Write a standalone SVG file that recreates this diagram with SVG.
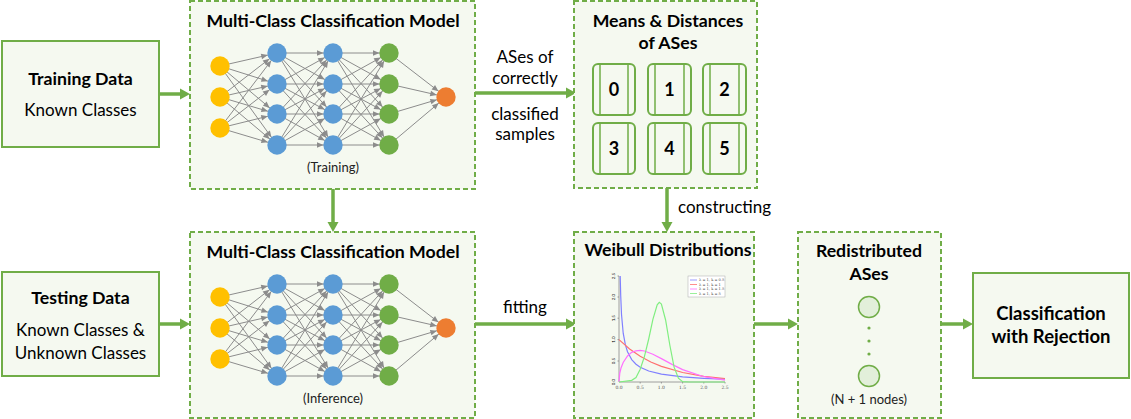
<svg xmlns="http://www.w3.org/2000/svg" xmlns:xlink="http://www.w3.org/1999/xlink" width="1131" height="419" viewBox="0 0 1131 419">
<style>
text{font-family:Lato,"Open Sans","Liberation Sans",sans-serif;fill:#000}
.t{font-weight:bold;font-size:17.7px;text-anchor:middle}
.r{font-size:17px;text-anchor:middle}
.s{font-size:13px;text-anchor:middle;fill:#222}
.d{font-weight:bold;font-size:18px;text-anchor:middle}
.box{fill:#f5f9f0;stroke:#70ad47;stroke-width:2}
.dash{fill:#f5f9f0;stroke:#70ad47;stroke-width:2;stroke-dasharray:5 3}
.arr{stroke:#70ad47;stroke-width:3.5;fill:none;marker-end:url(#ga)}
.e line{stroke:#8c8c8c;stroke-width:1;marker-end:url(#na)}
.ax{stroke:#888;stroke-width:0.8;fill:none}
.tk{font-size:4.5px;fill:#555;text-anchor:middle;font-family:"DejaVu Serif",serif}
.lg{font-size:3.6px;fill:#444;font-family:"DejaVu Serif",serif}
.cv{fill:none;stroke-width:1.2}
</style>
<defs>
<marker id="ga" markerUnits="userSpaceOnUse" markerWidth="20" markerHeight="20" refX="0" refY="0" orient="auto" overflow="visible" viewBox="-10 -10 20 20">
<path d="M-1,-5.5 L9,0 L-1,5.5 z" fill="#70ad47"/>
</marker>
<marker id="na" markerUnits="userSpaceOnUse" markerWidth="20" markerHeight="20" refX="0" refY="0" orient="auto" overflow="visible" viewBox="-20 -10 20 20">
<path d="M-16,-2.8 L-9.5,0 L-16,2.8 z" fill="#8c8c8c"/>
</marker>
<g id="nn">
<g class="e">
<line x1="220" y1="66" x2="277" y2="53"/><line x1="220" y1="66" x2="277" y2="84"/><line x1="220" y1="66" x2="277" y2="114"/><line x1="220" y1="66" x2="277" y2="145"/>
<line x1="220" y1="97" x2="277" y2="53"/><line x1="220" y1="97" x2="277" y2="84"/><line x1="220" y1="97" x2="277" y2="114"/><line x1="220" y1="97" x2="277" y2="145"/>
<line x1="220" y1="128" x2="277" y2="53"/><line x1="220" y1="128" x2="277" y2="84"/><line x1="220" y1="128" x2="277" y2="114"/><line x1="220" y1="128" x2="277" y2="145"/>
<line x1="277" y1="53" x2="333" y2="53"/><line x1="277" y1="53" x2="333" y2="84"/><line x1="277" y1="53" x2="333" y2="114"/><line x1="277" y1="53" x2="333" y2="145"/>
<line x1="277" y1="84" x2="333" y2="53"/><line x1="277" y1="84" x2="333" y2="84"/><line x1="277" y1="84" x2="333" y2="114"/><line x1="277" y1="84" x2="333" y2="145"/>
<line x1="277" y1="114" x2="333" y2="53"/><line x1="277" y1="114" x2="333" y2="84"/><line x1="277" y1="114" x2="333" y2="114"/><line x1="277" y1="114" x2="333" y2="145"/>
<line x1="277" y1="145" x2="333" y2="53"/><line x1="277" y1="145" x2="333" y2="84"/><line x1="277" y1="145" x2="333" y2="114"/><line x1="277" y1="145" x2="333" y2="145"/>
<line x1="333" y1="53" x2="389" y2="53"/><line x1="333" y1="53" x2="389" y2="84"/><line x1="333" y1="53" x2="389" y2="114"/><line x1="333" y1="53" x2="389" y2="145"/>
<line x1="333" y1="84" x2="389" y2="53"/><line x1="333" y1="84" x2="389" y2="84"/><line x1="333" y1="84" x2="389" y2="114"/><line x1="333" y1="84" x2="389" y2="145"/>
<line x1="333" y1="114" x2="389" y2="53"/><line x1="333" y1="114" x2="389" y2="84"/><line x1="333" y1="114" x2="389" y2="114"/><line x1="333" y1="114" x2="389" y2="145"/>
<line x1="333" y1="145" x2="389" y2="53"/><line x1="333" y1="145" x2="389" y2="84"/><line x1="333" y1="145" x2="389" y2="114"/><line x1="333" y1="145" x2="389" y2="145"/>
<line x1="389" y1="53" x2="446" y2="97"/><line x1="389" y1="84" x2="446" y2="97"/><line x1="389" y1="114" x2="446" y2="97"/><line x1="389" y1="145" x2="446" y2="97"/>
</g>
<g fill="#ffc000"><circle cx="220" cy="66" r="9.7"/><circle cx="220" cy="97" r="9.7"/><circle cx="220" cy="128" r="9.7"/></g>
<g fill="#5b9bd5"><circle cx="277" cy="53" r="9.7"/><circle cx="277" cy="84" r="9.7"/><circle cx="277" cy="114" r="9.7"/><circle cx="277" cy="145" r="9.7"/>
<circle cx="333" cy="53" r="9.7"/><circle cx="333" cy="84" r="9.7"/><circle cx="333" cy="114" r="9.7"/><circle cx="333" cy="145" r="9.7"/></g>
<g fill="#70ad47"><circle cx="389" cy="53" r="9.7"/><circle cx="389" cy="84" r="9.7"/><circle cx="389" cy="114" r="9.7"/><circle cx="389" cy="145" r="9.7"/></g>
<circle cx="446" cy="97" r="9.7" fill="#ed7d31"/>
</g>
</defs>
<rect width="1131" height="419" fill="#fff"/>

<g id="connectors">
<line class="arr" x1="159" y1="94" x2="181" y2="94"/>
<line class="arr" x1="159" y1="324" x2="181" y2="324"/>
<line class="arr" x1="475" y1="93" x2="567" y2="93"/>
<line class="arr" x1="475" y1="324" x2="567" y2="324"/>
<line class="arr" x1="333" y1="189" x2="333" y2="223"/>
<line class="arr" x1="667" y1="188" x2="667" y2="223"/>
<line class="arr" x1="754" y1="324" x2="789" y2="324"/>
<line class="arr" x1="941" y1="324" x2="964" y2="324"/>
<text class="r" x="525" y="63">ASes of</text>
<text class="r" x="525" y="84">correctly</text>
<text class="r" x="525" y="120">classified</text>
<text class="r" x="525" y="140">samples</text>
<text class="r" x="525" y="313">fitting</text>
<text class="r" x="678" y="213" style="text-anchor:start">constructing</text>
</g>

<g id="training-data">
<rect class="box" x="2" y="41" width="157" height="106"/>
<text class="t" x="80.5" y="85">Training Data</text>
<text class="r" x="80.5" y="116">Known Classes</text>
</g>

<g id="testing-data">
<rect class="box" x="2" y="272" width="157" height="104"/>
<text class="t" x="80.5" y="304">Testing Data</text>
<text class="r" x="80.5" y="336">Known Classes &amp;</text>
<text class="r" x="80.5" y="359">Unknown Classes</text>
</g>

<g id="model-training">
<rect class="dash" x="190" y="1" width="285" height="188"/>
<text class="t" x="333" y="27">Multi-Class Classification Model</text>
<use xlink:href="#nn"/>
<text class="s" x="333" y="172">(Training)</text>
</g>

<g id="model-inference">
<rect class="dash" x="190" y="232" width="285" height="186"/>
<text class="t" x="333" y="258">Multi-Class Classification Model</text>
<use xlink:href="#nn" transform="translate(0,231)"/>
<text class="s" x="333" y="403">(Inference)</text>
</g>

<g id="means-distances">
<rect class="dash" x="574" y="1" width="183" height="187"/>
<text class="t" x="668" y="27">Means &amp; Distances</text>
<text class="t" x="668" y="49">of ASes</text>
<g fill="#f5f9f0" stroke="#70ad47" stroke-width="2">
<rect x="593" y="64" width="42" height="51" rx="5"/><rect x="648" y="64" width="43" height="51" rx="5"/><rect x="703" y="64" width="43" height="51" rx="5"/>
<rect x="593" y="123" width="42" height="51" rx="5"/><rect x="648" y="123" width="43" height="51" rx="5"/><rect x="703" y="123" width="43" height="51" rx="5"/>
<path d="M600,64V115M628,64V115M655,64V115M684,64V115M710,64V115M739,64V115M600,123V174M628,123V174M655,123V174M684,123V174M710,123V174M739,123V174" fill="none" stroke-width="1.5"/>
</g>
<text class="d" x="614" y="96">0</text><text class="d" x="669.5" y="96">1</text><text class="d" x="724.5" y="96">2</text>
<text class="d" x="614" y="155">3</text><text class="d" x="669.5" y="155">4</text><text class="d" x="724.5" y="155">5</text>
</g>

<g id="weibull">
<rect class="dash" x="574" y="232" width="180" height="186"/>
<text class="t" x="668" y="256">Weibull Distributions</text>
<path class="ax" d="M619,276V382H725"/>
<path class="ax" d="M640.2,382v1.5M661.4,382v1.5M682.6,382v1.5M703.8,382v1.5M725,382v1.5M617.5,361H619M617.5,339.6H619M617.5,318.2H619M617.5,297H619M617.5,276H619"/>
<text class="tk" x="619" y="389">0.0</text><text class="tk" x="640.2" y="389">0.5</text><text class="tk" x="661.4" y="389">1.0</text><text class="tk" x="682.6" y="389">1.5</text><text class="tk" x="703.8" y="389">2.0</text><text class="tk" x="725" y="389">2.5</text>
<g class="tk"><text transform="translate(615,382) rotate(-90)">0.0</text><text transform="translate(615,361) rotate(-90)">0.5</text><text transform="translate(615,339.6) rotate(-90)">1.0</text><text transform="translate(615,318.2) rotate(-90)">1.5</text><text transform="translate(615,297) rotate(-90)">2.0</text><text transform="translate(615,276) rotate(-90)">2.5</text></g>
<polyline class="cv" stroke="#8080ff" points="620.2,276 620.7,295.2 621.5,314.2 623.2,333.2 625.4,344.9 627.5,351.7 631.7,359.6 636,364.2 640.2,367.2 648.7,371 661.4,374.2 682.6,376.9 703.8,378.4 725,379.2"/>
<polyline class="cv" stroke="#ff7070" points="619,339.6 629.6,349 640.2,356.3 650.8,362 661.4,366.4 682.6,372.5 703.8,376.3 725,378.5"/>
<polyline class="cv" stroke="#ff70ff" points="619,382 619.8,373 621,368 623.2,362.5 627.5,356 631.7,352.4 636,350.8 640.2,350.4 644.4,351 652.9,354.2 661.4,358.6 672,364.4 682.6,369.6 703.8,376.7 725,380.1"/>
<polyline class="cv" stroke="#80ee80" points="619,382 631.7,380.3 636,377.5 640.2,369.2 644.4,356.6 648.7,339 652.9,319.4 657.2,304.9 659.3,302.3 661.4,304 665.6,320 669.9,345.5 674.1,367.2 678.4,378.2 682.6,381.6 690,382 725,382"/>
<rect x="688" y="276" width="37" height="21" fill="#fff" stroke="#aaa" stroke-width="0.5"/>
<g stroke-width="0.8"><line x1="690" y1="280" x2="697" y2="280" stroke="#8080ff"/><line x1="690" y1="284.5" x2="697" y2="284.5" stroke="#ff7070"/><line x1="690" y1="289" x2="697" y2="289" stroke="#ff70ff"/><line x1="690" y1="293.5" x2="697" y2="293.5" stroke="#80ee80"/></g>
<text class="lg" x="699" y="281.2">λ = 1, k = 0.5</text><text class="lg" x="699" y="285.7">λ = 1, k = 1</text><text class="lg" x="699" y="290.2">λ = 1, k = 1.5</text><text class="lg" x="699" y="294.7">λ = 1, k = 5</text>
</g>

<g id="redistributed">
<rect class="dash" x="798" y="232" width="143" height="186"/>
<text class="t" x="869" y="257">Redistributed</text>
<text class="t" x="869" y="280">ASes</text>
<circle cx="869" cy="307" r="10.5" fill="#e2efda" stroke="#70ad47" stroke-width="1.5"/>
<circle cx="869" cy="376" r="10.5" fill="#e2efda" stroke="#70ad47" stroke-width="1.5"/>
<g fill="#70ad47"><circle cx="869" cy="328" r="1.6"/><circle cx="869" cy="341" r="1.6"/><circle cx="869" cy="354" r="1.6"/></g>
<text class="s" x="869" y="404">(N + 1 nodes)</text>
</g>

<g id="classification">
<rect class="box" x="973" y="273" width="156" height="105"/>
<text class="t" x="1051" y="320" style="font-size:18.5px">Classification</text>
<text class="t" x="1051" y="343" style="font-size:18.5px">with Rejection</text>
</g>
</svg>
